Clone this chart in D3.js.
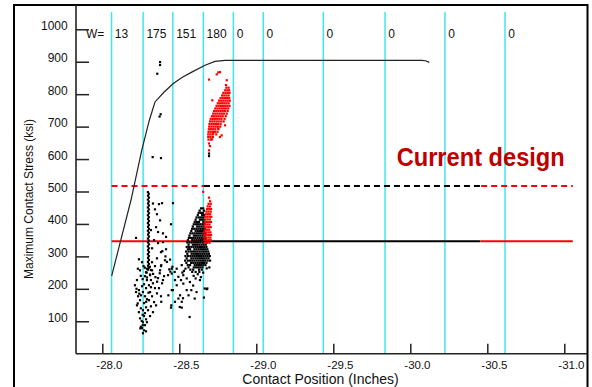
<!DOCTYPE html>
<html>
<head>
<meta charset="utf-8">
<script src="https://cdn.jsdelivr.net/npm/d3@7"></script>
<style>
  body { margin: 0; background: #fff; }
  text { font-family: Arial, "Liberation Sans", sans-serif; }
</style>
</head>
<body>
<div id="chart"></div>
<script>
// ---- data ----
const xTicks = [-28.0, -28.5, -29.0, -29.5, -30.0, -30.5, -31.0];
const yTicks = [100, 200, 300, 400, 500, 600, 700, 800, 900, 1000];

// cyan window lines and their W= counts
const wLines = [-28.06, -28.265, -28.458, -28.656, -28.851, -29.045, -29.435, -29.836, -30.225, -30.615];
const wCounts = ['13', '175', '151', '180', '0', '0', '0', '0', '0', '0'];

// limit lines (ksi) and where they switch colour
const solidLimit = 347;
const dashedLimit = 517;
const solidSegments = [
  { from: -28.06, to: -28.66, color: 'red' },
  { from: -28.66, to: -30.455, color: 'black' },
  { from: -30.455, to: -31.055, color: 'red' }
];
const dashedSegments = [
  { from: -28.06, to: -28.66, color: 'red' },
  { from: -28.66, to: -30.46, color: 'black' },
  { from: -30.46, to: -31.055, color: 'red' }
];

// capacity curve
const curve = [
  [-28.061, 240], [-28.186, 473], [-28.256, 627], [-28.305, 719], [-28.342, 776],
  [-28.40, 806], [-28.461, 833], [-28.52, 852], [-28.581, 868], [-28.667, 889],
  [-28.732, 901], [-28.797, 904], [-30.074, 904], [-30.10, 903], [-30.123, 898]
];

// black points: isolated ones up high
const blackHigh = [
  [-28.375, 899], [-28.375, 890], [-28.357, 863], [-28.379, 738], [-28.372, 731],
  [-28.327, 606], [-28.381, 603], [-28.693, 617], [-28.693, 609]
];

// black points: the dense column near -28.30
const blackColumn = [
  [-28.296, 498], [-28.302, 493], [-28.297, 487], [-28.303, 481], [-28.296, 475], [-28.302, 469],
  [-28.297, 463], [-28.303, 457], [-28.296, 451], [-28.302, 445], [-28.297, 439], [-28.303, 433],
  [-28.296, 427], [-28.302, 421], [-28.297, 415], [-28.303, 409], [-28.296, 403], [-28.302, 397],
  [-28.297, 391], [-28.303, 385], [-28.296, 379], [-28.302, 373], [-28.297, 367], [-28.303, 361],
  [-28.296, 355], [-28.302, 349], [-28.297, 343], [-28.303, 337], [-28.296, 331], [-28.302, 325],
  [-28.297, 319], [-28.303, 313], [-28.296, 307], [-28.302, 301], [-28.297, 295], [-28.303, 289],
  [-28.296, 283], [-28.302, 277], [-28.297, 271], [-28.303, 265], [-28.296, 259],
  [-28.290, 262], [-28.309, 268], [-28.288, 250], [-28.310, 244]
];

// black points: trail below the column
const blackTrail = [
  [-28.284, 251], [-28.277, 239], [-28.290, 227], [-28.271, 214], [-28.284, 202], [-28.264, 190],
  [-28.277, 177], [-28.290, 168], [-28.271, 156], [-28.284, 143], [-28.264, 134], [-28.277, 125],
  [-28.271, 116], [-28.284, 106], [-28.264, 97], [-28.277, 88], [-28.258, 79], [-28.271, 72],
  [-28.284, 69], [-28.264, 63]
];

// black points: spread round the left group
const blackLeft = [
  [-28.219, 357], [-28.238, 291], [-28.212, 211], [-28.225, 227], [-28.238, 196], [-28.232, 177],
  [-28.245, 165], [-28.225, 149], [-28.251, 180], [-28.238, 128], [-28.245, 109], [-28.219, 190],
  [-28.258, 208], [-28.245, 257], [-28.258, 282], [-28.310, 242], [-28.323, 257], [-28.316, 227],
  [-28.303, 211], [-28.329, 217], [-28.310, 190], [-28.342, 202], [-28.323, 177], [-28.355, 186],
  [-28.303, 165], [-28.336, 159], [-28.316, 146], [-28.297, 134], [-28.310, 116], [-28.329, 128],
  [-28.349, 149], [-28.362, 233], [-28.375, 257], [-28.388, 217], [-28.401, 239], [-28.368, 202],
  [-28.381, 177], [-28.329, 463], [-28.342, 445], [-28.368, 461], [-28.388, 464], [-28.355, 430],
  [-28.375, 411], [-28.349, 390], [-28.394, 371], [-28.336, 350], [-28.362, 341], [-28.394, 344],
  [-28.381, 313], [-28.355, 294], [-28.323, 282], [-28.407, 288], [-28.342, 270], [-28.381, 270],
  [-28.316, 381], [-28.323, 325], [-28.362, 375], [-28.414, 322], [-28.250, 240], [-28.262, 230],
  [-28.231, 262], [-28.290, 235], [-28.315, 258], [-28.330, 246], [-28.345, 236], [-28.356, 222],
  [-28.316, 205], [-28.300, 188], [-28.285, 160], [-28.262, 120], [-28.250, 140], [-28.230, 155],
  [-28.240, 185], [-28.222, 200], [-28.268, 270], [-28.276, 265], [-28.290, 97], [-28.256, 101],
  [-28.263, 88], [-28.247, 78], [-28.251, 83]
];

// black points: spread round the right group
const blackRight = [
  [-28.459, 464], [-28.446, 399], [-28.414, 360], [-28.390, 316], [-28.451, 262],
  [-28.383, 273], [-28.373, 248], [-28.394, 227], [-28.427, 242], [-28.470, 252], [-28.459, 196],
  [-28.448, 149], [-28.383, 160], [-28.503, 144], [-28.524, 171], [-28.567, 113], [-28.665, 201],
  [-28.578, 196], [-28.600, 170], [-28.678, 199], [-28.660, 173], [-28.695, 266], [-28.446, 142],
  [-28.516, 142], [-28.483, 262], [-28.516, 273], [-28.451, 247], [-28.494, 237], [-28.526, 242],
  [-28.472, 227], [-28.511, 227], [-28.548, 232], [-28.483, 211], [-28.526, 216], [-28.569, 221],
  [-28.451, 196], [-28.548, 196], [-28.505, 180], [-28.634, 227], [-28.678, 263], [-28.682, 201],
  [-28.429, 180], [-28.472, 160], [-28.494, 170], [-28.516, 160], [-28.540, 262], [-28.530, 255],
  [-28.520, 250], [-28.593, 240], [-28.620, 245], [-28.606, 232], [-28.640, 236], [-28.655, 250],
  [-28.590, 210], [-28.560, 180], [-28.612, 190], [-28.435, 260], [-28.442, 253], [-28.455, 268],
  [-28.420, 283], [-28.410, 300], [-28.440, 290]
];

// black points: dense core of the right group, one row per stress level [ksi, x, x, ...]
const blackCoreRows = [
  [448, -28.641, -28.655],
  [441, -28.632, -28.660],
  [434, -28.626, -28.640, -28.654],
  [427, -28.620, -28.648, -28.661],
  [420, -28.612, -28.627, -28.641, -28.655],
  [413, -28.606, -28.634, -28.648, -28.662],
  [406, -28.600, -28.614, -28.628, -28.656],
  [399, -28.594, -28.609, -28.622, -28.636, -28.650, -28.664],
  [392, -28.588, -28.616, -28.630, -28.644, -28.658],
  [385, -28.583, -28.597, -28.611, -28.625, -28.639, -28.653, -28.666],
  [378, -28.578, -28.606, -28.620, -28.634, -28.648, -28.662],
  [371, -28.572, -28.586, -28.600, -28.614, -28.628, -28.642, -28.656, -28.668],
  [364, -28.566, -28.595, -28.609, -28.623, -28.637, -28.651, -28.665],
  [357, -28.562, -28.576, -28.590, -28.604, -28.618, -28.632, -28.646, -28.660, -28.672],
  [350, -28.556, -28.584, -28.598, -28.612, -28.626, -28.640, -28.654, -28.668],
  [343, -28.552, -28.566, -28.580, -28.594, -28.608, -28.622, -28.636, -28.650, -28.664, -28.676],
  [336, -28.560, -28.588, -28.602, -28.616, -28.630, -28.644, -28.658, -28.672],
  [329, -28.548, -28.563, -28.578, -28.592, -28.606, -28.620, -28.634, -28.648, -28.662, -28.676],
  [322, -28.556, -28.570, -28.598, -28.612, -28.626, -28.640, -28.654, -28.668, -28.682],
  [315, -28.544, -28.560, -28.575, -28.589, -28.603, -28.617, -28.631, -28.645, -28.659, -28.673, -28.688],
  [308, -28.552, -28.580, -28.594, -28.608, -28.622, -28.636, -28.650, -28.664, -28.678, -28.692],
  [301, -28.540, -28.557, -28.572, -28.586, -28.600, -28.614, -28.628, -28.642, -28.656, -28.670, -28.684, -28.698],
  [294, -28.548, -28.578, -28.592, -28.606, -28.620, -28.634, -28.648, -28.662, -28.676, -28.690],
  [287, -28.538, -28.556, -28.570, -28.584, -28.598, -28.612, -28.626, -28.640, -28.654, -28.668, -28.684, -28.700],
  [280, -28.546, -28.577, -28.591, -28.605, -28.619, -28.633, -28.647, -28.661, -28.676],
  [273, -28.555, -28.570, -28.600, -28.614, -28.628, -28.642, -28.656, -28.670],
  [266, -28.560, -28.594, -28.608, -28.622, -28.636, -28.650],
  [259, -28.572, -28.590, -28.628, -28.646],
  [252, -28.584, -28.606, -28.630]
];

// red points: upper cloud, rows [ksi, x, x, ...]
const redUpperRows = [
  [820, -28.806, -28.820],
  [812, -28.798, -28.812, -28.824],
  [804, -28.786, -28.800, -28.814, -28.826],
  [796, -28.778, -28.792, -28.806, -28.820],
  [788, -28.768, -28.782, -28.796, -28.810, -28.824],
  [780, -28.758, -28.772, -28.786, -28.800, -28.814, -28.828],
  [772, -28.750, -28.764, -28.778, -28.792, -28.806, -28.820],
  [764, -28.742, -28.756, -28.770, -28.784, -28.798, -28.812, -28.826],
  [756, -28.734, -28.748, -28.762, -28.776, -28.790, -28.804, -28.818],
  [748, -28.726, -28.740, -28.754, -28.768, -28.782, -28.796, -28.814],
  [740, -28.720, -28.734, -28.748, -28.762, -28.776, -28.790, -28.808],
  [732, -28.712, -28.726, -28.740, -28.754, -28.768, -28.782, -28.802],
  [724, -28.704, -28.718, -28.732, -28.746, -28.760, -28.774, -28.794],
  [716, -28.700, -28.714, -28.728, -28.742, -28.756, -28.772, -28.788],
  [708, -28.696, -28.710, -28.724, -28.738, -28.752, -28.768],
  [700, -28.694, -28.708, -28.722, -28.736, -28.750, -28.766],
  [692, -28.692, -28.706, -28.720, -28.734, -28.754],
  [684, -28.690, -28.704, -28.718, -28.732, -28.748],
  [676, -28.688, -28.702, -28.716, -28.740],
  [668, -28.688, -28.702, -28.718],
  [660, -28.690, -28.706]
];
const redUpperLoose = [
  [-28.693, 845], [-28.753, 867], [-28.743, 861], [-28.764, 868], [-28.808, 843], [-28.803, 828],
  [-28.714, 781], [-28.693, 648], [-28.721, 679], [-28.764, 668], [-28.775, 673], [-28.753, 694],
  [-28.797, 704], [-28.693, 627], [-28.699, 640], [-28.712, 661]
];

// red points: lower cloud, rows [ksi, x, x, ...]
const redLowerRows = [
  [499, -28.655],
  [481, -28.693],
  [470, -28.700],
  [462, -28.690, -28.704],
  [454, -28.684, -28.698],
  [446, -28.680, -28.694, -28.706],
  [438, -28.676, -28.690, -28.704],
  [430, -28.672, -28.686, -28.700],
  [422, -28.668, -28.682, -28.696, -28.708],
  [414, -28.670, -28.684, -28.698],
  [406, -28.666, -28.680, -28.694, -28.706],
  [398, -28.668, -28.682, -28.696],
  [390, -28.664, -28.678, -28.692, -28.704],
  [382, -28.666, -28.680, -28.694],
  [374, -28.662, -28.676, -28.690, -28.702],
  [366, -28.664, -28.678, -28.692, -28.706],
  [358, -28.662, -28.676, -28.690, -28.702],
  [350, -28.664, -28.678, -28.692, -28.704],
  [342, -28.668, -28.682, -28.696]
];

// ---- chart ----
const W = 592, H = 387;
const x = d3.scaleLinear().domain([-28, -31]).range([102.3, 564.3]);
const y = d3.scaleLinear().domain([0, 1000]).range([353.7, 29.3]);

const svg = d3.select('#chart').append('svg')
  .attr('width', W).attr('height', H);

svg.append('rect').attr('width', W).attr('height', H).attr('fill', '#fff');

// outer frame
svg.append('rect')
  .attr('x', 14).attr('y', 5).attr('width', 573.5).attr('height', 400)
  .attr('fill', 'none').attr('stroke', '#000').attr('stroke-width', 2);

// cyan window lines
svg.append('g').selectAll('line')
  .data(wLines)
  .enter().append('line')
  .attr('x1', d => x(d)).attr('x2', d => x(d))
  .attr('y1', 12).attr('y2', y(0))
  .attr('stroke', '#3ee8ea').attr('stroke-width', 1.5);

// window counts
svg.append('text').attr('x', 86).attr('y', 37.5)
  .attr('font-size', 12).attr('fill', '#111').text('W=');
svg.append('g').selectAll('text')
  .data(wLines)
  .enter().append('text')
  .attr('x', d => x(d) + 3.3).attr('y', 37.5)
  .attr('font-size', 12).attr('fill', '#111')
  .text((d, i) => wCounts[i]);

// Y axis
const yAxis = d3.axisLeft(y).tickValues(yTicks).tickSizeInner(-13).tickSizeOuter(0).tickPadding(8.3)
  .tickFormat(d => String(d));
const yNode = svg.append('g').attr('transform', 'translate(76,0)').call(yAxis);
yNode.select('.domain').remove();
yNode.selectAll('line').attr('stroke', '#222').attr('stroke-width', 1.5);
yNode.selectAll('text').attr('dy', 0).attr('font-size', 12).attr('fill', '#111')
  .style('font-family', 'Arial, "Liberation Sans", sans-serif');
svg.append('line').attr('x1', 76).attr('x2', 76).attr('y1', 5).attr('y2', y(0))
  .attr('stroke', '#222').attr('stroke-width', 1.6);

// X axis
const xAxis = d3.axisBottom(x).tickValues(xTicks).tickSizeInner(-10).tickSizeOuter(0)
  .tickFormat(d => d.toFixed(1));
const xNode = svg.append('g').attr('transform', 'translate(0,' + y(0) + ')').call(xAxis);
xNode.select('.domain').remove();
xNode.selectAll('line').attr('stroke', '#222').attr('stroke-width', 1.5);
xNode.selectAll('text').attr('dy', 0).attr('y', 15).attr('x', -6.5)
  .attr('text-anchor', 'start').attr('font-size', 11.5).attr('fill', '#111')
  .style('font-family', 'Arial, "Liberation Sans", sans-serif');
svg.append('line').attr('x1', 76).attr('x2', 587).attr('y1', y(0)).attr('y2', y(0))
  .attr('stroke', '#222').attr('stroke-width', 1.6);

// axis titles
svg.append('text')
  .attr('transform', 'translate(33,199) rotate(-90)')
  .attr('text-anchor', 'middle').attr('font-size', 12).attr('fill', '#111')
  .text('Maximum Contact Stress (ksi)');
svg.append('text')
  .attr('x', 320.5).attr('y', 384)
  .attr('text-anchor', 'middle').attr('font-size', 14).attr('fill', '#111')
  .text('Contact Position (Inches)');

// limit lines
svg.append('g').selectAll('line')
  .data(solidSegments)
  .enter().append('line')
  .attr('x1', d => x(d.from)).attr('x2', d => x(d.to))
  .attr('y1', y(solidLimit)).attr('y2', y(solidLimit))
  .attr('stroke', d => d.color === 'red' ? '#ff0000' : '#000')
  .attr('stroke-width', 2);

svg.append('g').selectAll('line')
  .data(dashedSegments)
  .enter().append('line')
  .attr('x1', d => x(d.from)).attr('x2', d => x(d.to))
  .attr('y1', y(dashedLimit)).attr('y2', y(dashedLimit))
  .attr('stroke', d => d.color === 'red' ? '#ff0000' : '#000')
  .attr('stroke-width', 2)
  .attr('stroke-dasharray', '6,4');

// capacity curve
const lineFunction = d3.line()
  .x(d => x(d[0]))
  .y(d => y(d[1]));
svg.append('path')
  .attr('d', lineFunction(curve))
  .attr('fill', 'none').attr('stroke', '#222').attr('stroke-width', 1.2);

// scatter
const fromRows = rows => rows.flatMap(r => r.slice(1).map(v => [v, r[0]]));
const blackPts = [].concat(blackHigh, blackColumn, blackTrail, blackLeft, blackRight, fromRows(blackCoreRows));
const redPts = [].concat(fromRows(redUpperRows), redUpperLoose, fromRows(redLowerRows));
const sz = 2.2;

svg.append('g').selectAll('rect')
  .data(blackPts)
  .enter().append('rect')
  .attr('x', d => x(d[0]) - sz / 2).attr('y', d => y(d[1]) - sz / 2)
  .attr('width', sz).attr('height', sz)
  .attr('fill', '#000');

svg.append('g').selectAll('rect')
  .data(redPts)
  .enter().append('rect')
  .attr('x', d => x(d[0]) - sz / 2).attr('y', d => y(d[1]) - sz / 2)
  .attr('width', sz).attr('height', sz)
  .attr('fill', '#ff0000');

// annotation
svg.append('text')
  .attr('x', 396.7).attr('y', 165.7)
  .attr('font-size', 25).attr('font-weight', 'bold').attr('fill', '#c00000')
  .attr('textLength', 168).attr('lengthAdjust', 'spacingAndGlyphs')
  .text('Current design');
</script>
</body>
</html>
